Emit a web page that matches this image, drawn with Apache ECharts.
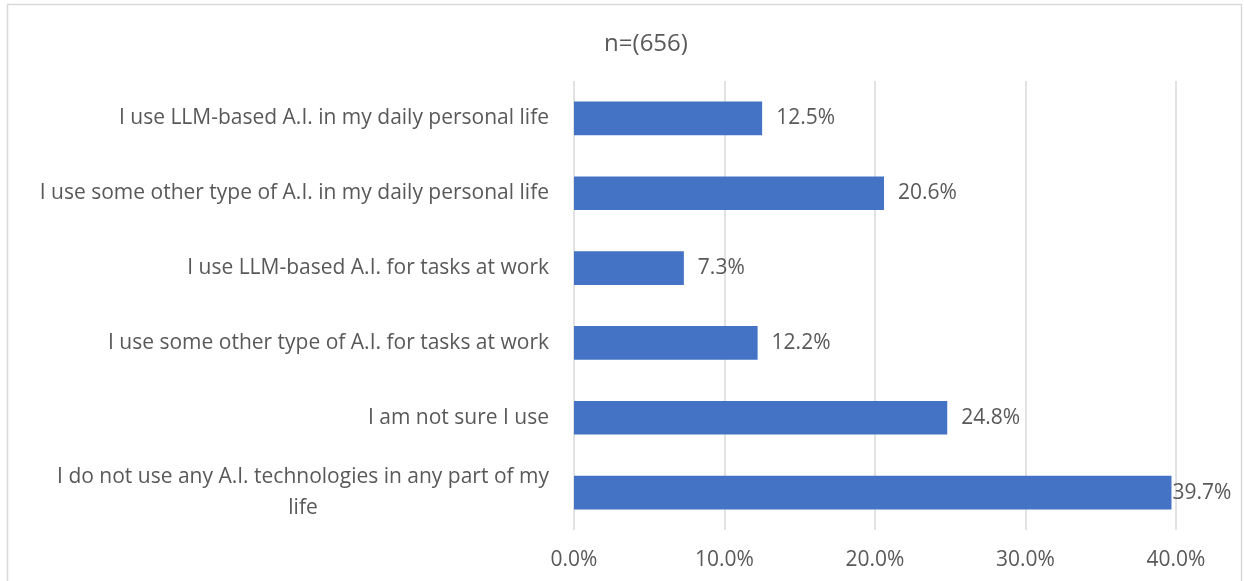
<!DOCTYPE html>
<html>
<head>
<meta charset="utf-8">
<script src="https://cdn.jsdelivr.net/npm/echarts@6/dist/echarts.min.js"></script>
<style>
  html, body { margin: 0; padding: 0; background: #ffffff; }
  #chart { width: 1244px; height: 581px; }
</style>
</head>
<body>
<div id="chart"></div>
<script>
// Survey answers, top to bottom as drawn
const categories = [
  'I use LLM-based A.I. in my daily personal life',
  'I use some other type of A.I. in my daily personal life',
  'I use LLM-based A.I. for tasks at work',
  'I use some other type of A.I. for tasks at work',
  'I am not sure I use',
  'I do not use any A.I. technologies in any part of my\nlife'
];
// Share of respondents (%)
const shares = [12.5, 20.6, 7.3, 12.2, 24.8, 39.7];
const titleText = 'n=(656)';
const xTicks = [0, 10, 20, 30, 40];

const FONT = '"Open Sans", "Noto Sans", sans-serif';
const TEXT = '#595959';

const chart = echarts.init(document.getElementById('chart'), null, { renderer: 'canvas' });

// Category axis runs bottom-up, so reverse to keep the first answer on top
const yCats = categories.slice().reverse();
const yVals = shares.slice().reverse();

const barData = yVals.map(function (v) {
  const item = { value: v };
  // the widest bar keeps its label tight against the bar end
  if (v === Math.max.apply(null, shares)) item.label = { distance: 1 };
  return item;
});

chart.setOption({
  animation: false,
  backgroundColor: '#ffffff',
  graphic: [{
    type: 'rect',
    shape: { x: 7.5, y: 4.5, width: 1234, height: 620 },
    style: { fill: 'none', stroke: '#d9d9d9', lineWidth: 1.5 },
    silent: true,
    z: -1
  }],
  title: {
    text: titleText,
    left: 641,
    textAlign: 'center',
    top: 27,
    textStyle: { fontFamily: FONT, fontSize: 24, fontWeight: 'normal', color: TEXT }
  },
  grid: { left: 574, right: 68, top: 81, bottom: 51, containLabel: false },
  xAxis: {
    type: 'value',
    min: xTicks[0],
    max: xTicks[xTicks.length - 1],
    interval: xTicks[1] - xTicks[0],
    axisLine: { show: false },
    axisTick: { show: false },
    splitLine: { show: true, lineStyle: { color: '#d9d9d9', width: 1.5 } },
    axisLabel: {
      margin: 20,
      fontFamily: FONT, fontSize: 21, color: TEXT,
      formatter: function (v) { return v.toFixed(1) + '%'; }
    }
  },
  yAxis: {
    type: 'category',
    data: yCats,
    axisLine: { show: false },
    axisTick: { show: false },
    axisLabel: {
      margin: 25,
      align: 'right',
      lineHeight: 31,
      formatter: function (v) {
        return v.split('\n').map(function (l) { return '{c|' + l + '}'; }).join('\n');
      },
      rich: {
        c: { align: 'center', fontFamily: FONT, fontSize: 21, color: TEXT, lineHeight: 31 }
      }
    }
  },
  series: [{
    type: 'bar',
    data: barData,
    barCategoryGap: '55%',
    itemStyle: { color: '#4472C4' },
    label: {
      show: true,
      position: 'right',
      distance: 14,
      fontFamily: FONT, fontSize: 21, color: TEXT,
      formatter: function (p) { return p.value.toFixed(1) + '%'; }
    }
  }]
});
</script>
</body>
</html>
